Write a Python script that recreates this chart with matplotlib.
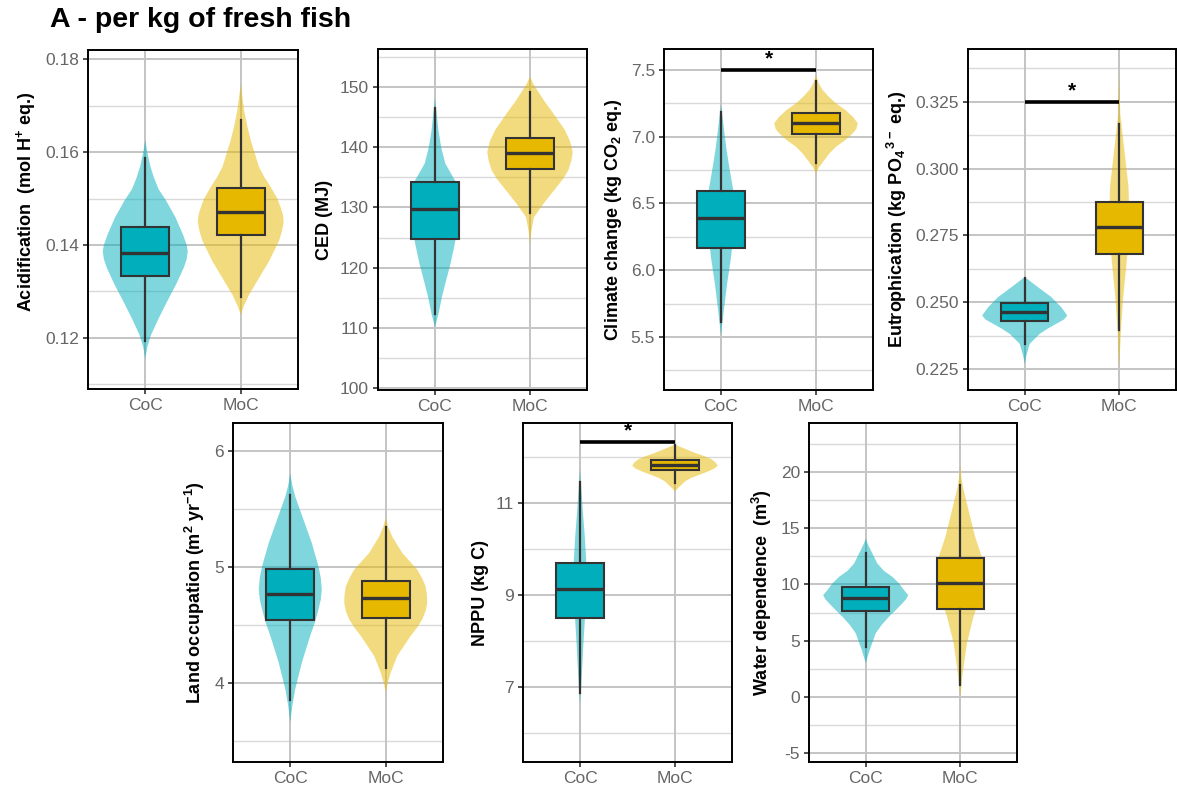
import numpy as np
import matplotlib
matplotlib.use("Agg")
import matplotlib.pyplot as plt

plt.rcParams["font.family"] = ["Liberation Sans", "DejaVu Sans"]
plt.rcParams["mathtext.default"] = "regular"

groups = ["CoC", "MoC"]
fill_colors = ["#00AFBB", "#E7B800"]

# box statistics per group: whisker low, Q1, median, Q3, whisker high
acid_box = [[0.1194, 0.1333, 0.1383, 0.1439, 0.1587],
            [0.1289, 0.1422, 0.1472, 0.1522, 0.1670]]
ced_box = [[112.3, 124.7, 129.7, 134.2, 146.5],
           [129.0, 136.3, 139.0, 141.5, 149.2]]
clim_box = [[5.614, 6.168, 6.393, 6.595, 7.186],
            [6.80, 7.02, 7.10, 7.18, 7.42]]
eutro_box = [[0.2344, 0.2429, 0.2463, 0.2496, 0.2590],
             [0.2397, 0.2681, 0.2782, 0.2876, 0.3168]]
land_box = [[3.85, 4.54, 4.77, 4.98, 5.62],
            [4.13, 4.56, 4.73, 4.88, 5.34]]
nppu_box = [[6.87, 8.50, 9.13, 9.70, 11.46],
            [11.43, 11.72, 11.83, 11.93, 12.26]]
water_box = [[4.45, 7.65, 8.8, 9.8, 12.8],
             [1.05, 7.8, 10.1, 12.35, 18.8]]

# violin outlines per group: (value, relative half width)
acid_coc = [(0.1626, 0), (0.1600, 6), (0.1570, 15), (0.1545, 26), (0.1520, 40),
            (0.1496, 62), (0.1460, 90), (0.1424, 112), (0.1400, 124),
            (0.1387, 127), (0.1370, 124), (0.1351, 115), (0.1315, 92),
            (0.1278, 65), (0.1242, 40), (0.1206, 17), (0.1180, 6), (0.1155, 0)]
acid_moc = [(0.1746, 0), (0.1691, 10), (0.1655, 20), (0.1626, 30), (0.1568, 55),
            (0.1545, 72), (0.1525, 90), (0.1500, 110), (0.1481, 120),
            (0.1465, 127), (0.1449, 129), (0.1430, 124), (0.1409, 115),
            (0.1365, 85), (0.1329, 55), (0.1293, 25), (0.1270, 10), (0.1250, 0)]
ced_coc = [(148.1, 0), (145.5, 5), (142.8, 10), (140.0, 18), (137.3, 30),
           (134.5, 58), (132.5, 68), (130.6, 72), (128.5, 70), (126.2, 65),
           (123.5, 56), (120.6, 45), (117.8, 32), (115.1, 20), (112.3, 10),
           (110.1, 0)]
ced_moc = [(151.7, 0), (150.5, 10), (149.2, 25), (147.5, 45), (145.6, 70),
           (142.8, 105), (141.0, 120), (139.2, 128), (137.8, 124), (136.2, 115),
           (134.8, 100), (133.4, 80), (130.6, 40), (128.4, 12), (126.0, 4),
           (123.9, 0)]
clim_coc = [(7.24, 0), (7.15, 5), (7.05, 10), (6.92, 17), (6.80, 25), (6.60, 40),
            (6.45, 45), (6.30, 42), (6.10, 33), (5.90, 20), (5.675, 8),
            (5.51, 0)]
clim_moc = [(7.46, 0), (7.40, 8), (7.35, 20), (7.30, 38), (7.25, 60),
            (7.20, 88), (7.15, 110), (7.10, 125), (7.06, 121), (7.025, 110),
            (6.975, 88), (6.925, 60), (6.875, 40), (6.825, 25), (6.775, 10),
            (6.725, 0)]
eutro_coc = [(0.2594, 0), (0.2575, 20), (0.2556, 40), (0.2519, 80),
             (0.2481, 110), (0.2450, 128), (0.2435, 118), (0.2419, 95),
             (0.2400, 68), (0.2381, 45), (0.2344, 15), (0.2300, 5), (0.2269, 0)]
eutro_moc = [(0.3363, 0), (0.3206, 3), (0.3106, 12), (0.3019, 20), (0.2931, 28),
             (0.2831, 30), (0.2731, 28), (0.2619, 20), (0.2519, 12), (0.2394, 5),
             (0.2254, 0)]
land_coc = [(5.806, 0), (5.706, 6), (5.606, 15), (5.406, 40), (5.206, 65),
            (5.006, 85), (4.906, 92), (4.806, 95), (4.72, 92), (4.634, 85),
            (4.52, 74), (4.406, 60), (4.177, 35), (3.949, 15), (3.80, 6),
            (3.663, 0)]
land_moc = [(5.42, 0), (5.34, 8), (5.26, 20), (5.12, 50), (5.05, 72),
            (4.977, 95), (4.90, 110), (4.834, 120), (4.76, 124), (4.69, 125),
            (4.62, 120), (4.549, 110), (4.48, 95), (4.406, 75), (4.234, 35),
            (4.09, 15), (4.00, 6), (3.92, 0)]
nppu_coc = [(11.73, 0), (11.30, 4), (10.85, 8), (10.27, 14), (9.76, 18),
            (9.10, 15), (8.45, 14), (7.95, 10), (7.36, 6), (6.95, 3),
            (6.64, 0)]
nppu_moc = [(12.27, 0), (12.18, 30), (12.09, 60), (12.02, 88), (11.95, 110),
            (11.88, 122), (11.81, 128), (11.75, 118), (11.69, 100),
            (11.62, 75), (11.55, 50), (11.48, 32), (11.40, 20), (11.32, 8),
            (11.25, 0)]
water_coc = [(14.08, 0), (13.6, 6), (13.05, 15), (11.86, 35), (11.2, 55),
             (10.68, 80), (10.1, 100), (9.50, 115), (9.05, 128), (8.7, 122),
             (8.31, 110), (7.7, 90), (7.13, 70), (6.4, 48), (5.65, 30),
             (4.17, 12), (3.5, 5), (2.99, 0)]
water_moc = [(20.59, 0), (19.6, 3), (18.67, 8), (16.6, 25), (14.23, 45),
             (12.46, 65), (11.5, 69), (10.68, 70), (8.91, 60), (7.13, 40),
             (4.76, 20), (1.8, 6), (-0.12, 0)]

# full violin width (x units) at the widest point
acid_vw = [0.89, 0.90]
ced_vw = [0.52, 0.90]
clim_vw = [0.29, 0.88]
eutro_vw = [0.90, 0.21]
land_vw = [0.66, 0.87]
nppu_vw = [0.13, 0.90]
water_vw = [0.90, 0.49]

panels = [
    # rect in pixels (left, top, right, bottom), ylim, ticks, label, stats, bar
    dict(px=(88, 50, 298, 389), ylim=(0.109, 0.182),
         major=[0.12, 0.14, 0.16, 0.18], minor=[0.11, 0.13, 0.15, 0.17],
         fmt="{:.2f}", label="Acidification  (mol H$^{+}$ eq.)", label_y=0.553,
         box=acid_box, vio=[acid_coc, acid_moc], vw=acid_vw, bar=None),
    dict(px=(378, 49, 587, 390), ylim=(99.7, 156.3),
         major=[100, 110, 120, 130, 140, 150], minor=[105, 115, 125, 135, 145, 155],
         fmt="{:.0f}", label="CED (MJ)", label_y=0.5,
         box=ced_box, vio=[ced_coc, ced_moc], vw=ced_vw, bar=None),
    dict(px=(664, 49, 873, 390), ylim=(5.103, 7.657),
         major=[5.5, 6.0, 6.5, 7.0, 7.5], minor=[5.25, 5.75, 6.25, 6.75, 7.25],
         fmt="{:.1f}", label="Climate change (kg CO$_{2}$ eq.)", label_y=0.5,
         box=clim_box, vio=[clim_coc, clim_moc], vw=clim_vw, bar=7.5),
    dict(px=(968, 49, 1176, 390), ylim=(0.2171, 0.3448),
         major=[0.225, 0.250, 0.275, 0.300, 0.325],
         minor=[0.2375, 0.2625, 0.2875, 0.3125, 0.3375],
         fmt="{:.3f}", label="Eutrophication (kg PO$_{4}$$^{\\,3-}$ eq.)",
         label_y=0.5,
         box=eutro_box, vio=[eutro_coc, eutro_moc], vw=eutro_vw, bar=0.325),
    dict(px=(233, 423, 443, 762), ylim=(3.32, 6.24),
         major=[4, 5, 6], minor=[3.5, 4.5, 5.5],
         fmt="{:.0f}", label="Land occupation (m$^{2}$ yr$^{-1}$)", label_y=0.5,
         box=land_box, vio=[land_coc, land_moc], vw=land_vw, bar=None),
    dict(px=(523, 423, 732, 762), ylim=(5.37, 12.74),
         major=[7, 9, 11], minor=[6, 8, 10, 12],
         fmt="{:.0f}", label="NPPU (kg C)", label_y=0.5,
         box=nppu_box, vio=[nppu_coc, nppu_moc], vw=nppu_vw, bar=12.33),
    dict(px=(809, 423, 1017, 762), ylim=(-5.8, 24.36),
         major=[-5, 0, 5, 10, 15, 20], minor=[-2.5, 2.5, 7.5, 12.5, 17.5, 22.5],
         fmt="{:.0f}", label="Water dependence  (m$^{3}$)", label_y=0.5,
         box=water_box, vio=[water_coc, water_moc], vw=water_vw, bar=None),
]

W, H = 1177, 792
fig = plt.figure(figsize=(W / 100, H / 100), dpi=100)

fig.text(50 / W, 1 - 20 / H, "A - per kg of fresh fish", fontsize=20.5,
         fontweight="bold", ha="left", va="center")

pos = [1, 2]
for p in panels:
    l, t, r, b = p["px"]
    ax = fig.add_axes([l / W, 1 - b / H, (r - l) / W, (b - t) / H])
    ax.set_xlim(0.4, 2.6)
    ax.set_ylim(*p["ylim"])

    # background grid
    for v in p["minor"]:
        ax.axhline(v, color="#d9d9d9", lw=1.0, zorder=0)
    for v in p["major"]:
        ax.axhline(v, color="#c4c4c4", lw=1.4, zorder=0)
    for x in pos:
        ax.axvline(x, color="#c4c4c4", lw=1.4, zorder=0)

    # violins
    vstats = []
    for shape in p["vio"]:
        vals = np.array(shape, dtype=float)
        order = np.argsort(vals[:, 0])
        coords = vals[order, 0]
        dens = vals[order, 1]
        vstats.append(dict(coords=coords, vals=dens, mean=np.nan,
                           median=np.nan, min=coords[0], max=coords[-1]))
    parts = ax.violin(vstats, positions=pos, widths=p["vw"], showmeans=False,
                      showextrema=False, showmedians=False)
    for body, c in zip(parts["bodies"], fill_colors):
        body.set_facecolor(c)
        body.set_edgecolor("none")
        body.set_alpha(0.5)
        body.set_zorder(1)

    # boxes
    bstats = []
    for g, s in zip(groups, p["box"]):
        bstats.append(dict(label=g, whislo=s[0], q1=s[1], med=s[2], q3=s[3],
                           whishi=s[4], fliers=[]))
    bp = ax.bxp(bstats, positions=pos, widths=0.5, patch_artist=True,
                showcaps=False, showfliers=False,
                boxprops=dict(edgecolor="#333333", linewidth=1.5),
                whiskerprops=dict(color="#333333", linewidth=1.6),
                medianprops=dict(color="#333333", linewidth=2.4,
                                 solid_capstyle="butt"),
                zorder=2)
    for patch, c in zip(bp["boxes"], fill_colors):
        patch.set_facecolor(c)

    if p["bar"] is not None:
        ax.plot(pos, [p["bar"], p["bar"]], color="black", lw=2.6,
                solid_capstyle="butt", zorder=3)
        ax.annotate("*", xy=(1.5, p["bar"]), xytext=(0, 1),
                    textcoords="offset points", ha="center", va="bottom",
                    fontsize=15, fontweight="bold", color="black")

    ax.set_xticks(pos)
    ax.set_xticklabels(groups)
    ax.set_yticks(p["major"])
    ax.set_yticklabels([p["fmt"].format(v) for v in p["major"]])
    ax.tick_params(axis="both", colors="#333333", labelcolor="#666666",
                   labelsize=12.5, length=3.5, width=1.2, pad=3)
    ax.set_ylabel(p["label"], fontsize=13, fontweight="bold", color="black",
                  labelpad=5, y=p["label_y"])
    for sp in ax.spines.values():
        sp.set_color("black")
        sp.set_linewidth(1.4)
        sp.set_zorder(4)

fig.savefig("out.png", dpi=100)
